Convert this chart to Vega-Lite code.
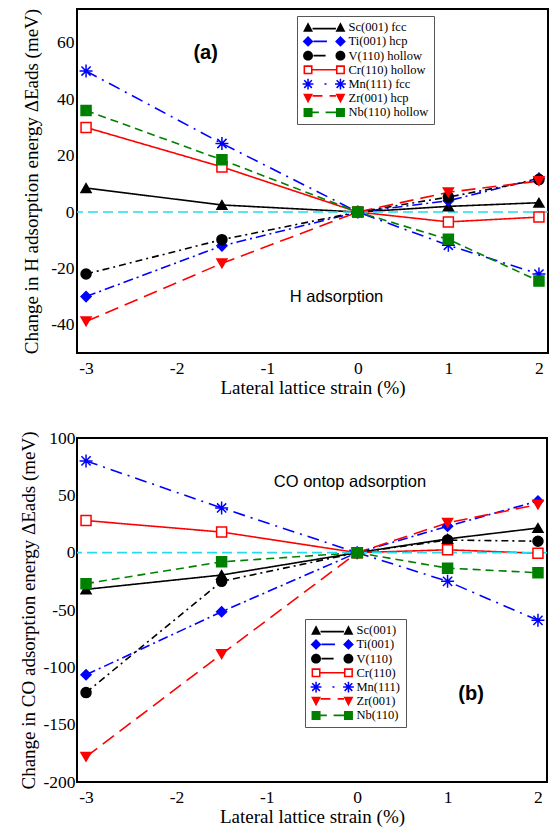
{
  "$schema": "https://vega.github.io/schema/vega-lite/v6.json",
  "padding": {"left": 18, "top": 4, "right": 2, "bottom": 2},
  "background": "white",
  "config": {
    "font": "Liberation Serif",
    "view": {"stroke": "black", "strokeWidth": 2},
    "axis": {"domain": false, "grid": false, "labelFont": "Liberation Serif", "labelFontSize": 17.5, "labelColor": "black", "titleFont": "Liberation Serif", "titleFontSize": 19, "titleFontWeight": "normal", "titleColor": "black", "tickColor": "black", "tickWidth": 2, "tickSize": 0, "labelPadding": 4, "labelFlush": false, "labelOverlap": false},
    "legend": {"labelFont": "Liberation Serif", "labelFontSize": 12.5, "labelColor": "black", "padding": 5, "strokeColor": "#555", "fillColor": "white", "rowPadding": 1.2, "symbolSize": 81, "symbolOffset": 16, "labelOffset": 18, "symbolOpacity": 1, "symbolStrokeWidth": 0, "title": null}
  },
  "datasets": {
    "a": [
      {"s": "Sc(001) fcc", "x": -3, "y": 8.5}, {"s": "Sc(001) fcc", "x": -1.5, "y": 2.5}, {"s": "Sc(001) fcc", "x": 0, "y": 0}, {"s": "Sc(001) fcc", "x": 1, "y": 2}, {"s": "Sc(001) fcc", "x": 2, "y": 3.3},
      {"s": "Ti(001) hcp", "x": -3, "y": -30}, {"s": "Ti(001) hcp", "x": -1.5, "y": -12}, {"s": "Ti(001) hcp", "x": 0, "y": 0}, {"s": "Ti(001) hcp", "x": 1, "y": 4}, {"s": "Ti(001) hcp", "x": 2, "y": 12},
      {"s": "V(110) hollow", "x": -3, "y": -22}, {"s": "V(110) hollow", "x": -1.5, "y": -9.8}, {"s": "V(110) hollow", "x": 0, "y": 0}, {"s": "V(110) hollow", "x": 1, "y": 5.3}, {"s": "V(110) hollow", "x": 2, "y": 11.5},
      {"s": "Cr(110) hollow", "x": -3, "y": 30}, {"s": "Cr(110) hollow", "x": -1.5, "y": 16}, {"s": "Cr(110) hollow", "x": 0, "y": 0}, {"s": "Cr(110) hollow", "x": 1, "y": -3.5}, {"s": "Cr(110) hollow", "x": 2, "y": -1.8},
      {"s": "Mn(111) fcc", "x": -3, "y": 50}, {"s": "Mn(111) fcc", "x": -1.5, "y": 24.3}, {"s": "Mn(111) fcc", "x": 0, "y": 0}, {"s": "Mn(111) fcc", "x": 1, "y": -11.8}, {"s": "Mn(111) fcc", "x": 2, "y": -22},
      {"s": "Zr(001) hcp", "x": -3, "y": -38.8}, {"s": "Zr(001) hcp", "x": -1.5, "y": -18.2}, {"s": "Zr(001) hcp", "x": 0, "y": 0}, {"s": "Zr(001) hcp", "x": 1, "y": 7}, {"s": "Zr(001) hcp", "x": 2, "y": 11},
      {"s": "Nb(110) hollow", "x": -3, "y": 36}, {"s": "Nb(110) hollow", "x": -1.5, "y": 18.5}, {"s": "Nb(110) hollow", "x": 0, "y": 0}, {"s": "Nb(110) hollow", "x": 1, "y": -9.7}, {"s": "Nb(110) hollow", "x": 2, "y": -24.5}
    ],
    "b": [
      {"s": "Sc(001)", "x": -3, "y": -32}, {"s": "Sc(001)", "x": -1.5, "y": -19.5}, {"s": "Sc(001)", "x": 0, "y": 0}, {"s": "Sc(001)", "x": 1, "y": 12}, {"s": "Sc(001)", "x": 2, "y": 21.5},
      {"s": "Ti(001)", "x": -3, "y": -106.5}, {"s": "Ti(001)", "x": -1.5, "y": -51.5}, {"s": "Ti(001)", "x": 0, "y": 0}, {"s": "Ti(001)", "x": 1, "y": 23}, {"s": "Ti(001)", "x": 2, "y": 45},
      {"s": "V(110)", "x": -3, "y": -122}, {"s": "V(110)", "x": -1.5, "y": -25}, {"s": "V(110)", "x": 0, "y": 0}, {"s": "V(110)", "x": 1, "y": 11}, {"s": "V(110)", "x": 2, "y": 10},
      {"s": "Cr(110)", "x": -3, "y": 28}, {"s": "Cr(110)", "x": -1.5, "y": 18}, {"s": "Cr(110)", "x": 0, "y": 0}, {"s": "Cr(110)", "x": 1, "y": 2.5}, {"s": "Cr(110)", "x": 2, "y": -0.5},
      {"s": "Mn(111)", "x": -3, "y": 80}, {"s": "Mn(111)", "x": -1.5, "y": 39}, {"s": "Mn(111)", "x": 0, "y": 0}, {"s": "Mn(111)", "x": 1, "y": -25}, {"s": "Mn(111)", "x": 2, "y": -59},
      {"s": "Zr(001)", "x": -3, "y": -178}, {"s": "Zr(001)", "x": -1.5, "y": -88.5}, {"s": "Zr(001)", "x": 0, "y": 0}, {"s": "Zr(001)", "x": 1, "y": 26}, {"s": "Zr(001)", "x": 2, "y": 42},
      {"s": "Nb(110)", "x": -3, "y": -27}, {"s": "Nb(110)", "x": -1.5, "y": -8}, {"s": "Nb(110)", "x": 0, "y": 0}, {"s": "Nb(110)", "x": 1, "y": -13.5}, {"s": "Nb(110)", "x": 2, "y": -17.5}
    ]
  },
  "spacing": 28,
  "resolve": {
    "scale": {"x": "independent", "y": "independent", "stroke": "independent", "fill": "independent", "shape": "independent", "strokeDash": "independent"},
    "legend": {"stroke": "independent", "fill": "independent", "shape": "independent", "strokeDash": "independent"}
  },
  "vconcat": [
    {
      "width": 471,
      "height": 344,
      "data": {"name": "a"},
      "resolve": {"axis": {"x": "independent", "y": "independent"}, "scale": {"shape": "independent", "fill": "independent", "stroke": "independent"}},
      "layer": [
        {
          "mark": {"type": "line", "strokeWidth": 1.6},
          "encoding": {
            "x": {"field": "x", "type": "quantitative", "scale": {"domain": [-3.1, 2.1], "nice": false, "zero": false},
              "axis": {"orient": "bottom", "values": [-3, -2.5, -2, -1.5, -1, -0.5, 0, 0.5, 1, 1.5, 2], "title": "Lateral lattice strain (%)", "labelExpr": "datum.value % 1 == 0 ? toString(datum.value) : ''", "labelPadding": 6, "titlePadding": 2,
                "encode": {"ticks": {"update": {"y2": {"signal": "datum.value % 1 == 0 ? -9 : -5"}}}}}},
            "y": {"field": "y", "type": "quantitative", "scale": {"domain": [-50, 72], "nice": false, "zero": false},
              "axis": {"orient": "left", "values": [-50, -40, -30, -20, -10, 0, 10, 20, 30, 40, 50, 60, 70], "title": "Change in  H adsorption energy ΔEads (meV)", "labelExpr": "datum.value % 20 == 0 ? toString(datum.value) : ''", "labelPadding": 3, "titlePadding": 9,
                "encode": {"ticks": {"update": {"x2": {"signal": "datum.value % 20 == 0 ? 9 : 5"}}}}}},
            "stroke": {"field": "s", "type": "nominal",
              "scale": {"domain": ["Sc(001) fcc", "Ti(001) hcp", "V(110) hollow", "Cr(110) hollow", "Mn(111) fcc", "Zr(001) hcp", "Nb(110) hollow"], "range": ["black", "blue", "black", "red", "blue", "red", "#008000"]},
              "legend": null},
            "strokeDash": {"field": "s", "type": "nominal",
              "scale": {"domain": ["Sc(001) fcc", "Ti(001) hcp", "V(110) hollow", "Cr(110) hollow", "Mn(111) fcc", "Zr(001) hcp", "Nb(110) hollow"], "range": [[1, 0], [10, 4, 2, 4], [7, 4, 2, 4], [1, 0], [12, 6, 2, 6], [14, 7], [8, 5]]},
              "legend": null}
          }
        },
        {
          "data": {"values": [{}]},
          "mark": {"type": "rule", "color": "#22ddee", "strokeWidth": 1.6, "strokeDash": [10, 5]},
          "encoding": {"y": {"datum": 0, "type": "quantitative", "axis": null}}
        },
        {
          "mark": {"type": "point", "filled": true, "size": 100, "strokeWidth": 1.5, "opacity": 1},
          "encoding": {
            "x": {"field": "x", "type": "quantitative",
              "axis": {"orient": "top", "values": [-3, -2.5, -2, -1.5, -1, -0.5, 0, 0.5, 1, 1.5, 2], "labels": false, "title": null,
                "encode": {"ticks": {"update": {"y2": {"signal": "datum.value % 1 == 0 ? 9 : 5"}}}}}},
            "y": {"field": "y", "type": "quantitative",
              "axis": {"orient": "right", "values": [-50, -40, -30, -20, -10, 0, 10, 20, 30, 40, 50, 60, 70], "labels": false, "title": null,
                "encode": {"ticks": {"update": {"x2": {"signal": "datum.value % 20 == 0 ? -9 : -5"}}}}}},
            "shape": {"field": "s", "type": "nominal",
              "scale": {"domain": ["Sc(001) fcc", "Ti(001) hcp", "V(110) hollow", "Cr(110) hollow", "Mn(111) fcc", "Zr(001) hcp", "Nb(110) hollow"], "range": ["triangle-up", "diamond", "circle", "square", "M0,-1.3L0,1.3M-1.3,0L1.3,0M-0.92,-0.92L0.92,0.92M-0.92,0.92L0.92,-0.92", "triangle-down", "square"]},
              "legend": null},
            "fill": {"field": "s", "type": "nominal",
              "scale": {"domain": ["Sc(001) fcc", "Ti(001) hcp", "V(110) hollow", "Cr(110) hollow", "Mn(111) fcc", "Zr(001) hcp", "Nb(110) hollow"], "range": ["black", "blue", "black", "white", "blue", "red", "#008000"]},
              "legend": null},
            "stroke": {"field": "s", "type": "nominal",
              "scale": {"domain": ["Sc(001) fcc", "Ti(001) hcp", "V(110) hollow", "Cr(110) hollow", "Mn(111) fcc", "Zr(001) hcp", "Nb(110) hollow"], "range": ["black", "blue", "black", "red", "blue", "red", "#008000"]},
              "legend": null}
          }
        },
        {
          "data": {"values": [{}]},
          "mark": {"type": "text", "font": "Liberation Sans", "fontSize": 20, "fontWeight": "bold", "color": "black"},
          "encoding": {"x": {"datum": -1.68, "type": "quantitative", "axis": null}, "y": {"datum": 56.5, "type": "quantitative", "axis": null}, "text": {"value": "(a)"}}
        },
        {
          "data": {"values": [{}]},
          "mark": {"type": "text", "font": "Liberation Sans", "fontSize": 16.5, "color": "black"},
          "encoding": {"x": {"datum": -0.235, "type": "quantitative", "axis": null}, "y": {"datum": -30.2, "type": "quantitative", "axis": null}, "text": {"value": "H adsorption"}}
        },
        {
          "data": {"values": []},
          "mark": {"type": "point", "filled": true},
          "encoding": {
            "shape": {"field": "s", "type": "nominal",
              "scale": {"domain": ["Sc(001) fcc", "Ti(001) hcp", "V(110) hollow", "Cr(110) hollow", "Mn(111) fcc", "Zr(001) hcp", "Nb(110) hollow"], "range": ["M-4.7,1L-3.6,-1.1L-2.5,1ZM2.5,1L3.6,-1.1L4.7,1ZM-2.6,0.1L2.6,0.1L2.6,0.5L-2.6,0.5Z", "M-4.8,0L-3.6,-1.2L-2.4,0L-3.6,1.2ZM2.4,0L3.6,-1.2L4.8,0L3.6,1.2ZM-2.4,-0.2L0.6,-0.2L0.6,0.2L-2.4,0.2Z", "M-4.7,0A1.1,1.1,0,1,0,-2.5,0A1.1,1.1,0,1,0,-4.7,0ZM2.5,0A1.1,1.1,0,1,0,4.7,0A1.1,1.1,0,1,0,2.5,0ZM-2.4,-0.2L0.3,-0.2L0.3,0.2L-2.4,0.2Z", "M-4.6,-1L-2.6,-1L-2.6,1L-4.6,1ZM-4.25,-0.65L-4.25,0.65L-2.95,0.65L-2.95,-0.65ZM2.6,-1L4.6,-1L4.6,1L2.6,1ZM2.95,-0.65L2.95,0.65L4.25,0.65L4.25,-0.65ZM-2.6,-0.17L2.6,-0.17L2.6,0.17L-2.6,0.17Z", "M-3.77,-1.2L-3.43,-1.2L-3.43,1.2L-3.77,1.2ZM-4.8,-0.17L-2.4,-0.17L-2.4,0.17L-4.8,0.17ZM-4.33,-0.97L-2.63,0.73L-2.87,0.97L-4.57,-0.73ZM-4.57,0.73L-2.87,-0.97L-2.63,-0.73L-4.33,0.97ZM3.43,-1.2L3.77,-1.2L3.77,1.2L3.43,1.2ZM2.4,-0.17L4.8,-0.17L4.8,0.17L2.4,0.17ZM2.87,-0.97L4.57,0.73L4.33,0.97L2.63,-0.73ZM2.63,0.73L4.33,-0.97L4.57,-0.73L2.87,0.97ZM0.05,-0.17L0.5,-0.17L0.5,0.17L0.05,0.17Z", "M-4.7,-1L-2.5,-1L-3.6,1.1ZM2.5,-1L4.7,-1L3.6,1.1ZM-2.6,-0.75L-0.4,-0.75L-0.4,-0.35L-2.6,-0.35ZM1.2,-0.75L2.6,-0.75L2.6,-0.35L1.2,-0.35Z", "M-4.6,-1L-2.6,-1L-2.6,1L-4.6,1ZM2.6,-1L4.6,-1L4.6,1L2.6,1ZM-2.6,-0.2L-1.2,-0.2L-1.2,0.2L-2.6,0.2ZM0.3,-0.2L2.6,-0.2L2.6,0.2L0.3,0.2Z"]},
              "legend": {"orient": "none", "legendX": 220, "legendY": 7}},
            "fill": {"field": "s", "type": "nominal",
              "scale": {"domain": ["Sc(001) fcc", "Ti(001) hcp", "V(110) hollow", "Cr(110) hollow", "Mn(111) fcc", "Zr(001) hcp", "Nb(110) hollow"], "range": ["black", "blue", "black", "red", "blue", "red", "#008000"]},
              "legend": null}
          }
        }
      ]
    },
    {
      "width": 470,
      "height": 344,
      "data": {"name": "b"},
      "resolve": {"axis": {"x": "independent", "y": "independent"}, "scale": {"shape": "independent", "fill": "independent", "stroke": "independent"}},
      "layer": [
        {
          "mark": {"type": "line", "strokeWidth": 1.6},
          "encoding": {
            "x": {"field": "x", "type": "quantitative", "scale": {"domain": [-3.1, 2.1], "nice": false, "zero": false},
              "axis": {"orient": "bottom", "values": [-3, -2.5, -2, -1.5, -1, -0.5, 0, 0.5, 1, 1.5, 2], "title": "Lateral lattice strain (%)", "labelExpr": "datum.value % 1 == 0 ? toString(datum.value) : ''", "labelPadding": 6, "titlePadding": 2,
                "encode": {"ticks": {"update": {"y2": {"signal": "datum.value % 1 == 0 ? -9 : -5"}}}}}},
            "y": {"field": "y", "type": "quantitative", "scale": {"domain": [-200, 100], "nice": false, "zero": false},
              "axis": {"orient": "left", "values": [-200, -175, -150, -125, -100, -75, -50, -25, 0, 25, 50, 75, 100], "title": "Change in  CO adsorption energy ΔEads (meV)", "labelExpr": "datum.value % 50 == 0 ? toString(datum.value) : ''", "labelPadding": 2, "titlePadding": 4,
                "encode": {"ticks": {"update": {"x2": {"signal": "datum.value % 50 == 0 ? 9 : 5"}}}}}},
            "stroke": {"field": "s", "type": "nominal",
              "scale": {"domain": ["Sc(001)", "Ti(001)", "V(110)", "Cr(110)", "Mn(111)", "Zr(001)", "Nb(110)"], "range": ["black", "blue", "black", "red", "blue", "red", "#008000"]},
              "legend": null},
            "strokeDash": {"field": "s", "type": "nominal",
              "scale": {"domain": ["Sc(001)", "Ti(001)", "V(110)", "Cr(110)", "Mn(111)", "Zr(001)", "Nb(110)"], "range": [[1, 0], [10, 4, 2, 4], [7, 4, 2, 4], [1, 0], [12, 6, 2, 6], [14, 7], [8, 5]]},
              "legend": null}
          }
        },
        {
          "data": {"values": [{}]},
          "mark": {"type": "rule", "color": "#22ddee", "strokeWidth": 1.6, "strokeDash": [10, 5]},
          "encoding": {"y": {"datum": 0, "type": "quantitative", "axis": null}}
        },
        {
          "mark": {"type": "point", "filled": true, "size": 100, "strokeWidth": 1.5, "opacity": 1},
          "encoding": {
            "x": {"field": "x", "type": "quantitative",
              "axis": {"orient": "top", "values": [-3, -2.5, -2, -1.5, -1, -0.5, 0, 0.5, 1, 1.5, 2], "labels": false, "title": null,
                "encode": {"ticks": {"update": {"y2": {"signal": "datum.value % 1 == 0 ? 9 : 5"}}}}}},
            "y": {"field": "y", "type": "quantitative",
              "axis": {"orient": "right", "values": [-200, -175, -150, -125, -100, -75, -50, -25, 0, 25, 50, 75, 100], "labels": false, "title": null,
                "encode": {"ticks": {"update": {"x2": {"signal": "datum.value % 50 == 0 ? -9 : -5"}}}}}},
            "shape": {"field": "s", "type": "nominal",
              "scale": {"domain": ["Sc(001)", "Ti(001)", "V(110)", "Cr(110)", "Mn(111)", "Zr(001)", "Nb(110)"], "range": ["triangle-up", "diamond", "circle", "square", "M0,-1.3L0,1.3M-1.3,0L1.3,0M-0.92,-0.92L0.92,0.92M-0.92,0.92L0.92,-0.92", "triangle-down", "square"]},
              "legend": null},
            "fill": {"field": "s", "type": "nominal",
              "scale": {"domain": ["Sc(001)", "Ti(001)", "V(110)", "Cr(110)", "Mn(111)", "Zr(001)", "Nb(110)"], "range": ["black", "blue", "black", "white", "blue", "red", "#008000"]},
              "legend": null},
            "stroke": {"field": "s", "type": "nominal",
              "scale": {"domain": ["Sc(001)", "Ti(001)", "V(110)", "Cr(110)", "Mn(111)", "Zr(001)", "Nb(110)"], "range": ["black", "blue", "black", "red", "blue", "red", "#008000"]},
              "legend": null}
          }
        },
        {
          "data": {"values": [{}]},
          "mark": {"type": "text", "font": "Liberation Sans", "fontSize": 16.5, "color": "black"},
          "encoding": {"x": {"datum": -0.08, "type": "quantitative", "axis": null}, "y": {"datum": 62, "type": "quantitative", "axis": null}, "text": {"value": "CO ontop adsorption"}}
        },
        {
          "data": {"values": [{}]},
          "mark": {"type": "text", "font": "Liberation Sans", "fontSize": 20, "fontWeight": "bold", "color": "black"},
          "encoding": {"x": {"datum": 1.26, "type": "quantitative", "axis": null}, "y": {"datum": -123, "type": "quantitative", "axis": null}, "text": {"value": "(b)"}}
        },
        {
          "data": {"values": []},
          "mark": {"type": "point", "filled": true},
          "encoding": {
            "shape": {"field": "s", "type": "nominal",
              "scale": {"domain": ["Sc(001)", "Ti(001)", "V(110)", "Cr(110)", "Mn(111)", "Zr(001)", "Nb(110)"], "range": ["M-4.7,1L-3.6,-1.1L-2.5,1ZM2.5,1L3.6,-1.1L4.7,1ZM-2.6,0.1L2.6,0.1L2.6,0.5L-2.6,0.5Z", "M-4.8,0L-3.6,-1.2L-2.4,0L-3.6,1.2ZM2.4,0L3.6,-1.2L4.8,0L3.6,1.2ZM-2.4,-0.2L0.6,-0.2L0.6,0.2L-2.4,0.2Z", "M-4.7,0A1.1,1.1,0,1,0,-2.5,0A1.1,1.1,0,1,0,-4.7,0ZM2.5,0A1.1,1.1,0,1,0,4.7,0A1.1,1.1,0,1,0,2.5,0ZM-2.4,-0.2L0.3,-0.2L0.3,0.2L-2.4,0.2Z", "M-4.6,-1L-2.6,-1L-2.6,1L-4.6,1ZM-4.25,-0.65L-4.25,0.65L-2.95,0.65L-2.95,-0.65ZM2.6,-1L4.6,-1L4.6,1L2.6,1ZM2.95,-0.65L2.95,0.65L4.25,0.65L4.25,-0.65ZM-2.6,-0.17L2.6,-0.17L2.6,0.17L-2.6,0.17Z", "M-3.77,-1.2L-3.43,-1.2L-3.43,1.2L-3.77,1.2ZM-4.8,-0.17L-2.4,-0.17L-2.4,0.17L-4.8,0.17ZM-4.33,-0.97L-2.63,0.73L-2.87,0.97L-4.57,-0.73ZM-4.57,0.73L-2.87,-0.97L-2.63,-0.73L-4.33,0.97ZM3.43,-1.2L3.77,-1.2L3.77,1.2L3.43,1.2ZM2.4,-0.17L4.8,-0.17L4.8,0.17L2.4,0.17ZM2.87,-0.97L4.57,0.73L4.33,0.97L2.63,-0.73ZM2.63,0.73L4.33,-0.97L4.57,-0.73L2.87,0.97ZM0.05,-0.17L0.5,-0.17L0.5,0.17L0.05,0.17Z", "M-4.7,-1L-2.5,-1L-3.6,1.1ZM2.5,-1L4.7,-1L3.6,1.1ZM-2.6,-0.75L-0.4,-0.75L-0.4,-0.35L-2.6,-0.35ZM1.2,-0.75L2.6,-0.75L2.6,-0.35L1.2,-0.35Z", "M-4.6,-1L-2.6,-1L-2.6,1L-4.6,1ZM2.6,-1L4.6,-1L4.6,1L2.6,1ZM-2.6,-0.2L-1.2,-0.2L-1.2,0.2L-2.6,0.2ZM0.3,-0.2L2.6,-0.2L2.6,0.2L0.3,0.2Z"]},
              "legend": {"orient": "none", "legendX": 228, "legendY": 181}},
            "fill": {"field": "s", "type": "nominal",
              "scale": {"domain": ["Sc(001)", "Ti(001)", "V(110)", "Cr(110)", "Mn(111)", "Zr(001)", "Nb(110)"], "range": ["black", "blue", "black", "red", "blue", "red", "#008000"]},
              "legend": null}
          }
        }
      ]
    }
  ]
}
